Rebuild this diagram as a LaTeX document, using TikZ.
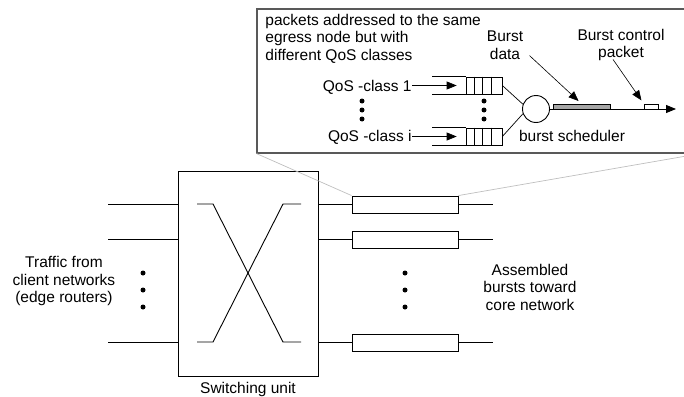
\documentclass[tikz,border=0pt]{standalone}
\usepackage{fontspec}
\setmainfont{Liberation Sans}
\usetikzlibrary{positioning, arrows.meta}

\begin{document}
\begin{tikzpicture}[
	x=1pt, y=-1pt, line width=0.9pt,
	every node/.style={font=\fontsize{15.5}{17.5}\selectfont},
	lbl/.style={inner sep=0, align=center},
	swbox/.style={rectangle, draw=black, line width=0.9pt, minimum width=140, minimum height=205},
	brick/.style={rectangle, draw=black, line width=0.9pt, minimum width=106, minimum height=17, inner sep=0},
	insetbox/.style={rectangle, draw=black!65, line width=1.1pt, minimum width=443, minimum height=144, inner sep=0},
	queuebox/.style={rectangle, draw=black, line width=0.7pt, minimum width=36, minimum height=17, inner sep=0},
	dot/.style={circle, fill=black, inner sep=0, minimum size=5},
	zoomln/.style={draw=black!25, line width=0.7pt},
	tip/.style={-{Triangle[length=10pt, width=8pt]}},
	]
		\clip (0,0) rectangle (684,396);

		%Nodes
		\node[swbox]    (Switch)    at (248,273.5)   {};
		\node[lbl]      (SwLbl)     at (248,389)     {Switching unit};
		\node[brick]    (Bur1)      at (405,204.5)   {};
		\node[brick]    (Bur2)      at (405,239.5)   {};
		\node[brick]    (Bur3)      at (405,342.5)   {};
		\node[lbl]      (TrafLbl)   at (64,281)      {Traffic from\\client networks\\(edge routers)};
		\node[lbl]      (AsmLbl)    at (530,287)     {Assembled\\bursts toward\\core network};

		%Dots
		\foreach \y in {273,290,307} {
			\node[dot] at (143,\y) {};
			\node[dot] at (405,\y) {};
		}

		%Lines
		\foreach \y/\n in {204/1, 239/2, 342/3} {
			\coordinate (In\n)  at (108,\y);
			\coordinate (Out\n) at (493,\y);
			\draw (In\n) -- (Switch.west |- In\n);
			\draw (Switch.east |- In\n) -- (Bur\n.west |- In\n);
			\draw (Bur\n.east |- Out\n) -- (Out\n);
		}

		%Crossing inside the switch
		\draw (197,204) -- (213,204) -- (283,342) -- (301,342);
		\draw (197,342) -- (213,342) -- (283,204) -- (301,204);

		%Inset
		\node[insetbox] (Zoom)      at (478.5,81)    {};
		\draw[zoomln] (Zoom.south west) -- (Bur1.north west);
		\draw[zoomln] (Bur1.north east) -- (Zoom.south east);

		\node[lbl, align=left, anchor=north west] (Desc) at (265,13.5) {packets addressed to the same\\egress node but with\\different QoS classes};
		\node[lbl]      (DataLbl)   at (505,45)      {Burst\\data};
		\node[lbl]      (CtrlLbl)   at (621,45)      {Burst control\\packet};

		\node[queuebox] (Q1)        at (484,85.5)    {};
		\node[queuebox] (Q2)        at (484,136.5)   {};
		\node[lbl, anchor=base east] (Cls1) at (412,91)  {QoS -class 1};
		\node[lbl, anchor=base east] (Cls2) at (412,141) {QoS -class i};
		\node[circle, draw=black, line width=0.9pt, minimum size=27, inner sep=0] (Sched) at (536,109) {};
		\node[lbl, anchor=base] (SchLbl) at (572,141) {burst scheduler};
		\node[rectangle, draw=black, fill=black!35, line width=0.5pt, minimum width=57, minimum height=5, inner sep=0] (Data) at (581.5,106.5) {};
		\node[rectangle, draw=black, fill=white, line width=0.6pt, minimum width=14, minimum height=5, inner sep=0] (Ctrl) at (651,106.5) {};
		\coordinate (Exit) at (676,109);

		\foreach \q in {Q1,Q2} {
			\draw[line width=0.7pt] (\q.north west) -- +(-34,0);
			\draw[line width=0.7pt] (\q.south west) -- +(-34,0);
			\foreach \dx in {9,17,26} {
				\draw[line width=0.7pt] ([xshift=\dx]\q.north west) -- ([xshift=\dx]\q.south west);
			}
		}
		\foreach \y in {101,110,119} {
			\node[dot] at (362,\y) {};
			\node[dot] at (484,\y) {};
		}

		\draw[tip, line width=0.7pt, shorten >=9pt] (Cls1.east |- Q1) -- (Q1.west);
		\draw[tip, line width=0.7pt, shorten >=9pt] (Cls2.east |- Q2) -- (Q2.west);
		\draw[line width=0.7pt] (Q1.east) -- (Sched.160);
		\draw[line width=0.7pt] (Q2.east) -- (Sched.200);
		\draw[tip, line width=0.9pt] (Sched.east) -- (Exit);
		\draw[tip, line width=0.6pt, shorten >=4pt] ([xshift=6, yshift=4]DataLbl.south east) -- (Data.north);
		\draw[tip, line width=0.6pt, shorten >=4pt] ([xshift=-8, yshift=2]CtrlLbl.south) -- (Ctrl.north west);
	\end{tikzpicture}
\end{document}
